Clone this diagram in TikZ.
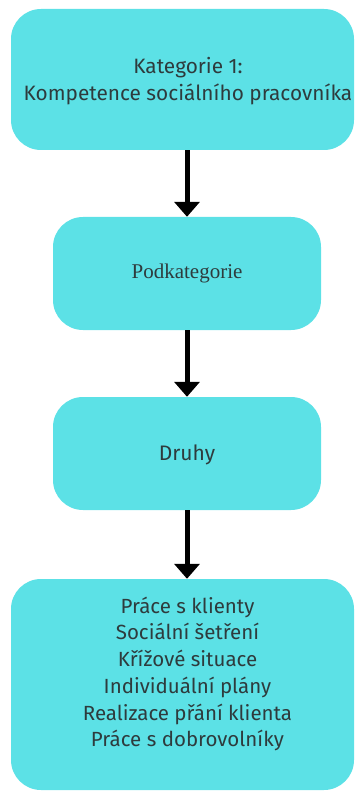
\documentclass[tikz,border=0pt]{standalone}
\usepackage{fontspec}
\setmainfont{Fira Sans}
\newfontfamily\serifface{Liberation Serif}
\usetikzlibrary{arrows.meta}
\definecolor{boxcyan}{HTML}{5CE1E6}
\definecolor{txt}{HTML}{2E3B3D}
\begin{document}
\begin{tikzpicture}[x=1pt,y=-1pt,
  box/.style={fill=boxcyan,draw=none,rounded corners=30pt,inner sep=0pt},
  lbl/.style={text=txt,align=center,inner sep=0pt},
  conn/.style={line width=5pt,-{Triangle[width=25pt,length=15pt]}}]
\useasboundingbox (0,0) rectangle (355,791);
\node[box,minimum width=343pt,minimum height=141pt] (b1) at (182.5,79.5) {};
\node[box,minimum width=268pt,minimum height=113pt] (b2) at (187,273.5) {};
\node[box,minimum width=268pt,minimum height=113pt] (b3) at (187,453.5) {};
\node[box,minimum width=343pt,minimum height=211pt] (b4) at (182.5,684.5) {};
\node[lbl,font=\fontsize{20.8}{27}\selectfont] (t1) at (188,81) {Kategorie 1:\\Kompetence sociálního pracovníka};
\node[lbl,font=\serifface\fontsize{21}{24}\selectfont] (t2) at (187,273) {Podkategorie};
\node[lbl,font=\fontsize{21}{25}\selectfont] (t3) at (187,455) {Druhy};
\node[lbl,font=\fontsize{20.5}{26.7}\selectfont] (t4) at (187.5,674) {Práce s klienty\\Sociální šetření\\Křížové situace\\Individuální plány\\Realizace přání klienta\\Práce s dobrovolníky};
\draw[conn] (b1.south -| b2.north) -- (b2.north);
\draw[conn] (b2.south) -- (b3.north);
\draw[conn] (b3.south) -- (b4.north -| b3.south);
\end{tikzpicture}
\end{document}
